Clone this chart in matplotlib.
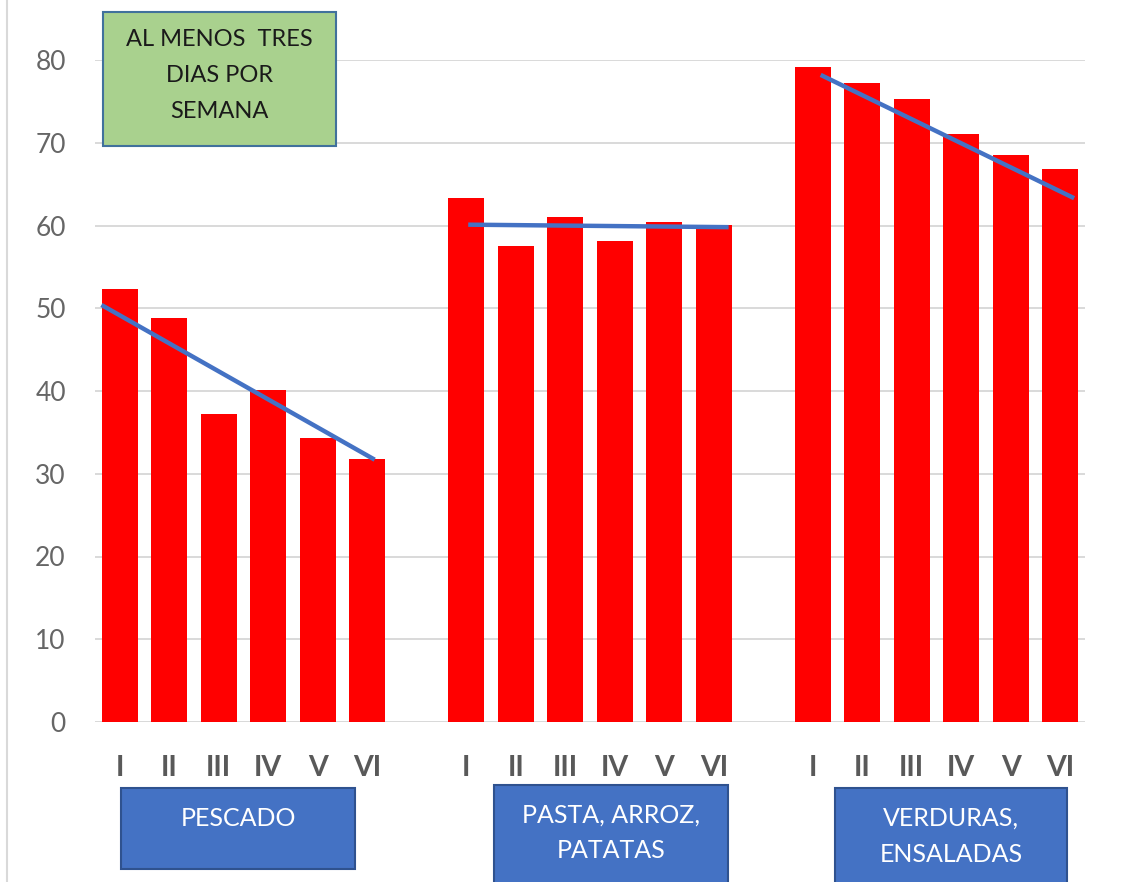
import matplotlib.pyplot as plt
from matplotlib.patches import Rectangle
from matplotlib.lines import Line2D

# Data: percentage eating each food group at least three days per week, by stage I-VI
stages = ["I", "II", "III", "IV", "V", "VI"]
groups = ["PESCADO", "PASTA, ARROZ,\nPATATAS", "VERDURAS,\nENSALADAS"]
pescado = [52.3, 48.8, 37.2, 40.1, 34.3, 31.8]
pasta_arroz_patatas = [63.3, 57.5, 61.0, 58.1, 60.4, 60.1]
verduras_ensaladas = [79.2, 77.2, 75.3, 71.1, 68.5, 66.8]
series = [pescado, pasta_arroz_patatas, verduras_ensaladas]

# Hand-drawn trend segments per group: (stage position, value) at each end
trend_start = [(-0.37, 50.4), (0.04, 60.1), (0.16, 78.2)]
trend_end = [(5.15, 31.7), (5.30, 59.8), (5.28, 63.3)]

title_lines = ["AL MENOS  TRES", "DIAS POR", "SEMANA"]

W, H = 1133, 882
plt.rcParams["font.family"] = ["Lato", "DejaVu Sans"]

fig = plt.figure(figsize=(W / 100, H / 100), dpi=100)
fig.patch.set_facecolor("white")


def fx(px):
    return px / W


def fy(py):
    return 1 - py / H


ax = fig.add_axes([fx(95), fy(722), fx(1085) - fx(95), fy(60) - fy(722)])

group_gap = 7  # six bars plus one empty slot per group
positions, labels = [], []
for g, values in enumerate(series):
    xs = [g * group_gap + i for i in range(len(values))]
    ax.bar(xs, values, width=0.73, color="#FF0000", zorder=3)
    positions += xs
    labels += stages
    (x0, y0), (x1, y1) = trend_start[g], trend_end[g]
    ax.plot([g * group_gap + x0, g * group_gap + x1], [y0, y1],
            color="#4472C4", lw=3.2, solid_capstyle="butt", zorder=4)

ax.set_xlim(-0.5, 19.5)
ax.set_ylim(0, 80)
ax.set_yticks(range(0, 81, 10))
ax.yaxis.grid(True, color="#D9D9D9", lw=1.4, zorder=0)
ax.set_axisbelow(True)
for s in ax.spines.values():
    s.set_visible(False)
ax.axhline(0, color="#D9D9D9", lw=1.4, zorder=2)

ax.set_xticks(positions)
ax.set_xticklabels(labels, fontweight="bold")
ax.tick_params(axis="x", length=0, pad=24, labelsize=20.5, labelcolor="#595959")
ax.tick_params(axis="y", length=0, pad=21, labelsize=19, labelcolor="#666666")

# Left frame edge
fig.add_artist(Line2D([fx(7), fx(7)], [0, 1], color="#D9D9D9", lw=1.5))


def box(x0, y0, x1, y1, face, edge):
    fig.add_artist(Rectangle((fx(x0), fy(y1)), fx(x1) - fx(x0), fy(y0) - fy(y1),
                             facecolor=face, edgecolor=edge, lw=1.5,
                             transform=fig.transFigure, clip_on=False))


# Caption box
box(103, 12, 336, 146, "#A9D18E", "#41719C")
for line, yc in zip(title_lines, [40, 76, 111]):
    fig.text(fx(219.5), fy(yc), line, ha="center", va="center",
             fontsize=17, color="#1A1A1A")

# Group label boxes
group_boxes = [(121, 788, 355, 869), (494, 785, 728, 900), (835, 788, 1067, 900)]
for name, (x0, y0, x1, y1) in zip(groups, group_boxes):
    box(x0, y0, x1, y1, "#4472C4", "#2F528F")
    for k, line in enumerate(name.split("\n")):
        fig.text(fx((x0 + x1) / 2), fy(y0 + 30 + 36 * k), line, ha="center",
                 va="center", fontsize=18, color="white")

fig.savefig("out.png", dpi=100, facecolor="white")
